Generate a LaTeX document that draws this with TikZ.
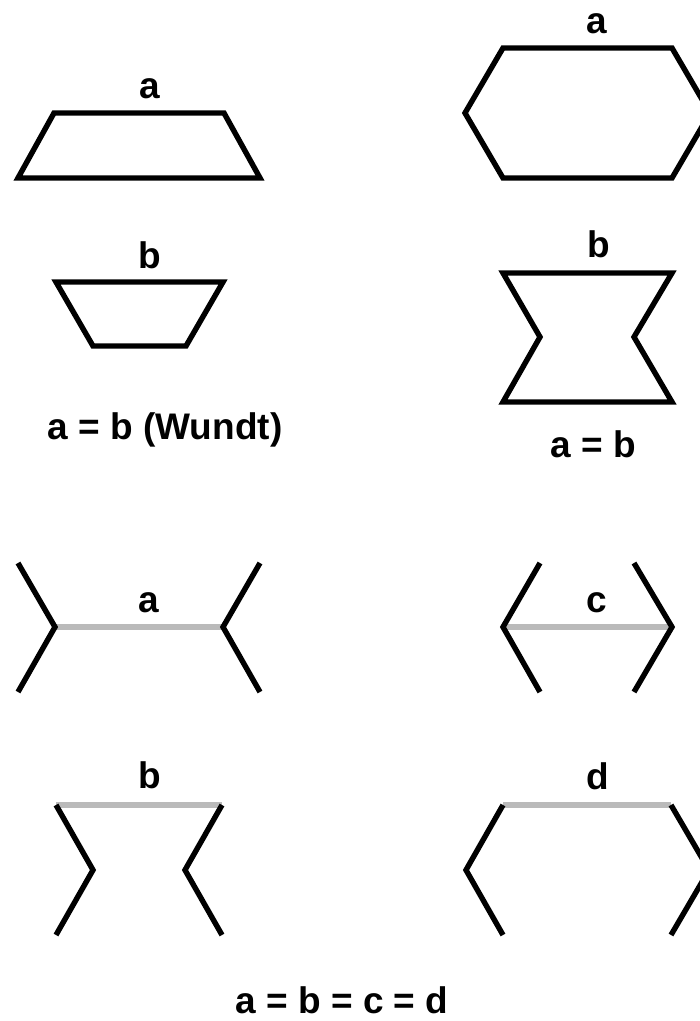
\documentclass[tikz,border=0pt]{standalone}
\usepackage{fontspec}
\setmainfont{Liberation Sans}
\tikzset{
  outline/.style={draw=black, line width=5.4pt, line join=miter, line cap=butt},
  grayline/.style={draw=black!27, line width=5.4pt, line cap=butt},
  lbl/.style={anchor=base, inner sep=0pt, font=\fontsize{37}{40}\selectfont\bfseries},
}
\begin{document}
\begin{tikzpicture}[x=1pt, y=-1pt]
\useasboundingbox (0,0) rectangle (700,1021);
\clip (0,0) rectangle (700,1021);
% ---------- top left: Wundt trapezoids ----------
\draw[outline] (54,113) -- (224,113) -- (260,178) -- (18,178) -- cycle;
\node[lbl] (ta) at (150,98) {a};
\draw[outline] (56,282) -- (223,282) -- (186,346) -- (93,346) -- cycle;
\node[lbl] (tb) at (150,268) {b};
\node[lbl] (teq1) at (165,439) {a = b (Wundt)};
% ---------- top right: hexagon and bow tie ----------
\draw[outline] (503,48) -- (672,48) -- (710,113) -- (672,178) -- (503,178) -- (465,113) -- cycle;
\node[lbl] (ra) at (597,33) {a};
\draw[outline] (503,273) -- (672,273) -- (634,337) -- (672,402) -- (503,402) -- (540,337) -- cycle;
\node[lbl] (rb) at (599,257) {b};
\node[lbl] (teq2) at (593,457) {a = b};
% ---------- bottom left ----------
\draw[grayline] (55,627) -- (223,627);
\draw[outline] (18,563) -- (55,627) -- (18,692);
\draw[outline] (260,563) -- (223,627) -- (260,692);
\node[lbl] (ba) at (149,612) {a};
\draw[grayline] (56,805) -- (222,805);
\draw[outline] (56,805) -- (93,870) -- (56,935);
\draw[outline] (222,805) -- (185,870) -- (222,935);
\node[lbl] (bb) at (150,788) {b};
% ---------- bottom right ----------
\draw[grayline] (503,627) -- (672,627);
\draw[outline] (540,563) -- (503,627) -- (540,692);
\draw[outline] (634,563) -- (672,627) -- (634,692);
\node[lbl] (bc) at (597,612) {c};
\draw[grayline] (503,805) -- (671,805);
\draw[outline] (503,805) -- (466,870) -- (503,935);
\draw[outline] (671,805) -- (709,870) -- (671,935);
\node[lbl] (bd) at (598,789) {d};
% ---------- bottom caption ----------
\node[lbl] (beq) at (342,1013) {a = b = c = d};
\end{tikzpicture}
\end{document}
